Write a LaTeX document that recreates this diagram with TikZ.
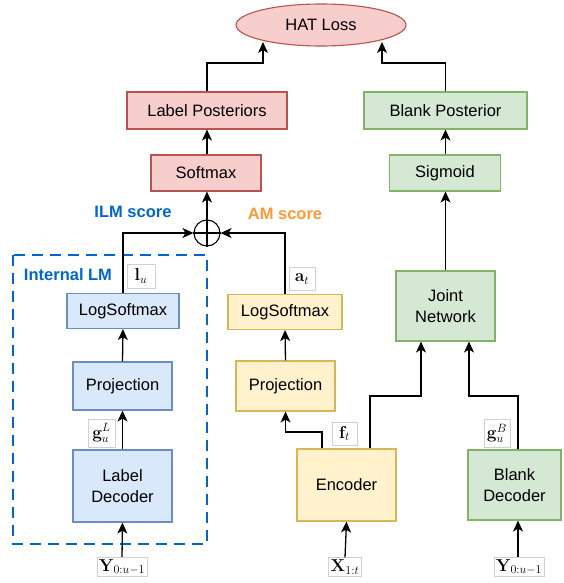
\documentclass[tikz,border=0pt]{standalone}
\usepackage[no-math]{fontspec}
\setmainfont{Liberation Sans}
\usetikzlibrary{shapes.geometric,arrows.meta,calc}
\definecolor{redF}{HTML}{F8CECC}\definecolor{redD}{HTML}{B85450}
\definecolor{grnF}{HTML}{D5E8D4}\definecolor{grnD}{HTML}{82B366}
\definecolor{bluF}{HTML}{DAE8FC}\definecolor{bluD}{HTML}{6C8EBF}
\definecolor{yelF}{HTML}{FFF2CC}\definecolor{yelD}{HTML}{D6B656}
\definecolor{ilmC}{HTML}{0066CC}\definecolor{amC}{HTML}{FF9933}
\definecolor{labD}{HTML}{D0D0D0}
\begin{document}
\begin{tikzpicture}[x=1pt,y=-1pt,
  box/.style={draw, line width=1.1pt, rectangle, align=center, inner sep=0pt,
    font=\fontsize{16.5}{21.5}\selectfont},
  redbox/.style={box, fill=redF, draw=redD},
  grnbox/.style={box, fill=grnF, draw=grnD},
  blubox/.style={box, fill=bluF, draw=bluD},
  yelbox/.style={box, fill=yelF, draw=yelD},
  arr/.style={line width=1.3pt, -{Stealth[length=11pt,width=10pt,inset=3pt]}},
  mlab/.style={draw=labD, fill=white, line width=0.6pt, inner sep=3pt,
    font=\fontsize{17}{19}\selectfont},
  scoretxt/.style={font=\fontsize{16.5}{20}\selectfont\bfseries}
]
\useasboundingbox (0,0) rectangle (563,583);

% dashed internal LM box
\draw[draw=ilmC, line width=2.4pt, dash pattern=on 11pt off 7pt] (13,255) rectangle (207,544);
\node[scoretxt, text=ilmC] (ilmlm) at (68,275) {Internal LM};

% top
\node[ellipse, draw=redD, fill=redF, line width=1.1pt, minimum width=170pt, minimum height=42pt,
  inner sep=0pt, font=\fontsize{16.5}{20}\selectfont] (hat) at (321,25) {HAT Loss};
\node[redbox, minimum width=160pt, minimum height=37pt] (lp) at (207,110.5) {Label Posteriors};
\node[grnbox, minimum width=163pt, minimum height=37pt] (bp) at (445.5,110.5) {Blank Posterior};
\node[redbox, minimum width=110pt, minimum height=36pt] (smax) at (206,173) {Softmax};
\node[grnbox, minimum width=111pt, minimum height=36pt] (sig) at (445,173) {Sigmoid};

% plus
\node[circle, draw, line width=1.1pt, minimum size=26pt, inner sep=0pt] (plus) at (207,233) {};
\draw[line width=1.1pt] (plus.north) -- (plus.south) (plus.west) -- (plus.east);

\node[scoretxt, text=ilmC] (ilm) at (133,212) {ILM score};
\node[scoretxt, text=amC] (am) at (285,214) {AM score};

% left column
\node[blubox, minimum width=112pt, minimum height=35pt] (lsL) at (123,311) {LogSoftmax};
\node[blubox, minimum width=99pt, minimum height=48pt] (projL) at (122.5,386) {Projection};
\node[blubox, minimum width=99pt, minimum height=72pt] (decL) at (122.5,486) {Label\\Decoder};

% middle column
\node[yelbox, minimum width=114pt, minimum height=35pt] (lsM) at (285,312) {LogSoftmax};
\node[yelbox, minimum width=99pt, minimum height=50pt] (projM) at (285.5,386) {Projection};
\node[yelbox, minimum width=99pt, minimum height=72pt] (enc) at (346.5,485) {Encoder};

% right column
\node[grnbox, minimum width=99pt, minimum height=70pt] (joint) at (445.5,306) {Joint\\Network};
\node[grnbox, minimum width=93pt, minimum height=70pt] (bdec) at (514.5,485) {Blank\\Decoder};

% math labels
\node[mlab, minimum width=28pt, minimum height=24pt] (lu) at (141,276) {$\mathbf{l}_u$};
\node[mlab, minimum width=26pt, minimum height=23pt] (at) at (302,279) {$\mathbf{a}_t$};
\node[mlab, minimum width=27pt, minimum height=28pt] (gL) at (101.5,433) {$\mathbf{g}_u^L$};
\node[mlab, minimum width=25pt, minimum height=23pt] (ft) at (344.5,433.5) {$\mathbf{f}_t$};
\node[mlab, minimum width=25pt, minimum height=28pt] (gB) at (497,433.5) {$\mathbf{g}_u^B$};
\node[mlab, inner sep=2pt] (yL) at (122,567) {$\mathbf{Y}_{0:u-1}$};
\node[mlab, inner sep=2pt] (xin) at (345,567) {$\mathbf{X}_{1:t}$};
\node[mlab, inner sep=2pt] (yR) at (519,567) {$\mathbf{Y}_{0:u-1}$};

% coordinates
\coordinate (h1) at (263,63);
\coordinate (h2) at (382,63);
\coordinate (e1) at (322,432);
\coordinate (e2) at (370,396);
\coordinate (j1) at (421,396);
\coordinate (b1) at (518,396);
\coordinate (j2) at (469,396);

% connectors
\draw[arr] (yL.north) -- (decL.south);
\draw[arr] (decL.north) -- (projL.south);
\draw[arr] (projL.north) -- (lsL.south);
\draw[arr] (lsL.north) |- (plus.west);
\draw[arr] (lsM.north) |- (plus.east);
\draw[arr] (projM.north) -- (lsM.south);
\draw[arr] (e1 |- enc.north) -- (e1) -| (projM.south);
\draw[arr] (xin.north) -- (enc.south);
\draw[arr] (e2 |- enc.north) -- (e2) -- (j1) -- (j1 |- joint.south);
\draw[arr] (b1 |- bdec.north) -- (b1) -- (j2) -- (j2 |- joint.south);
\draw[arr] (yR.north -| b1) -- (b1 |- bdec.south);
\draw[arr] (plus.north) -- (plus.north |- smax.south);
\draw[arr] (smax.north -| lp.south) -- (lp.south);
\draw[arr] (joint.north) -- (joint.north |- sig.south);
\draw[arr] (sig.north -| bp.south) -- (bp.south);
\draw[arr] (lp.north) |- (h1) -- ($(h1)+(0,-21)$);
\draw[arr] (bp.north) |- (h2) -- ($(h2)+(0,-21)$);
\end{tikzpicture}
\end{document}
